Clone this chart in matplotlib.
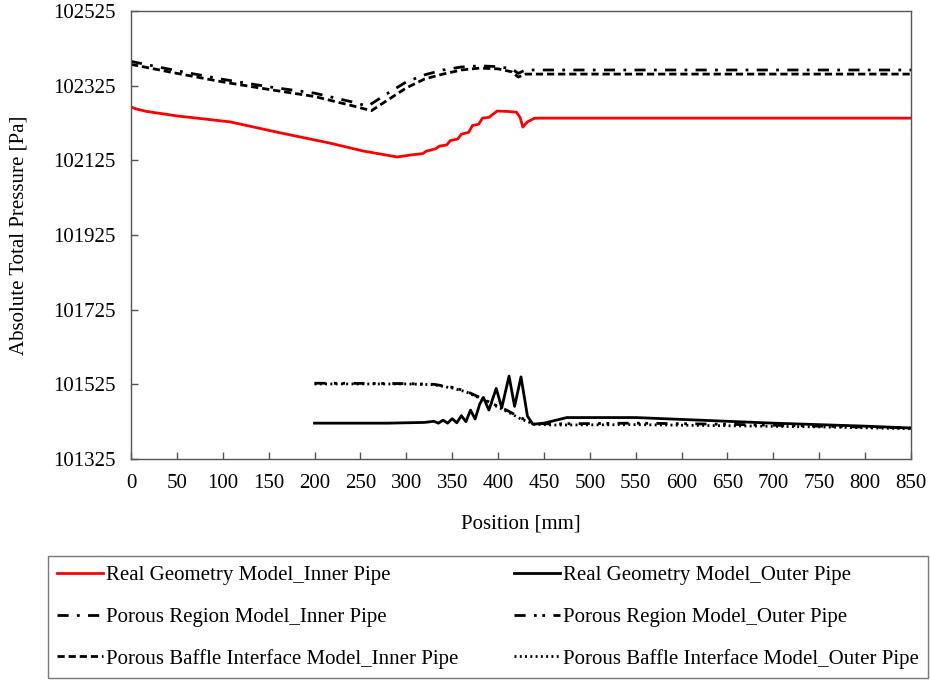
import matplotlib
matplotlib.use("Agg")
import matplotlib.pyplot as plt

plt.rcParams['font.family'] = ['Liberation Serif', 'DejaVu Serif']

# Real Geometry Model - inner pipe
real_in_x = [0, 5, 17, 50, 108, 160, 217, 253, 290, 307, 318, 322, 326, 332, 336, 344, 348,
             356, 360, 368, 372, 379, 383, 390, 399, 410, 420, 424, 427, 432, 440, 850]
real_in_p = [102268, 102263, 102256, 102244, 102228, 102200, 102171, 102150, 102134, 102140,
             102143, 102150, 102152, 102156, 102163, 102166, 102178, 102182, 102195, 102200,
             102218, 102222, 102238, 102240, 102257, 102256, 102254, 102240, 102214, 102228,
             102238, 102238]

# Real Geometry Model - outer pipe
real_out_x = [200, 280, 300, 320, 330, 335, 340, 345, 350, 355, 360, 365, 370, 375, 380,
              384, 390, 398, 404, 412, 418, 425, 432, 438, 450, 475, 550, 600, 700, 800, 850]
real_out_p = [101421, 101421, 101422, 101423, 101426, 101421, 101429, 101421, 101433, 101422,
              101441, 101425, 101456, 101432, 101472, 101490, 101456, 101514, 101462, 101547,
              101466, 101545, 101440, 101418, 101421, 101436, 101436, 101431, 101421, 101413, 101408]

# Porous Region Model
pr_in_x = [0, 50, 100, 150, 200, 240, 258, 280, 300, 320, 340, 360, 380, 400, 415, 422, 430, 850]
pr_in_p = [102390, 102365, 102342, 102322, 102305, 102282, 102270, 102305, 102335, 102354,
           102367, 102375, 102378, 102376, 102370, 102358, 102367, 102367]
pr_out_x = [200, 300, 330, 350, 365, 380, 395, 410, 425, 440, 460, 550, 650, 750, 850]
pr_out_p = [101528, 101527, 101525, 101517, 101507, 101490, 101472, 101455, 101435, 101420,
            101419, 101421, 101418, 101413, 101408]

# Porous Baffle Interface Model
pb_in_x = [0, 50, 100, 150, 200, 240, 262, 280, 300, 320, 340, 360, 380, 400, 415, 422, 430, 850]
pb_in_p = [102382, 102358, 102335, 102315, 102296, 102272, 102258, 102287, 102319, 102343,
           102356, 102367, 102372, 102370, 102362, 102348, 102356, 102356]
pb_out_x = [200, 300, 330, 350, 365, 380, 395, 410, 425, 440, 460, 550, 650, 750, 850]
pb_out_p = [101526, 101526, 101524, 101515, 101505, 101488, 101470, 101452, 101432, 101418,
            101416, 101417, 101414, 101411, 101406]

y_ticks = [101325, 101525, 101725, 101925, 102125, 102325, 102525]
x_ticks = list(range(0, 851, 50))

fig = plt.figure(figsize=(9.3, 6.8), dpi=100)
ax = fig.add_axes([131 / 930, 1 - 459 / 680, 780 / 930, 448 / 680])

dashdot = (0, (4, 3, 1, 3))
dashdotdot = (0, (4, 3, 1, 2, 1, 3))
dashed = (0, (2.6, 1.4))
dotted = (0, (0.7, 1.2))

h1, = ax.plot(real_in_x, real_in_p, color='red', lw=2, label='Real Geometry Model_Inner Pipe')
h2, = ax.plot(real_out_x, real_out_p, color='black', lw=2, label='Real Geometry Model_Outer Pipe')
h3, = ax.plot(pr_in_x, pr_in_p, color='black', lw=2, linestyle=dashdot,
              label='Porous Region Model_Inner Pipe')
h4, = ax.plot(pr_out_x, pr_out_p, color='black', lw=2, linestyle=dashdotdot,
              label='Porous Region Model_Outer Pipe')
h5, = ax.plot(pb_in_x, pb_in_p, color='black', lw=2, linestyle=dashed,
              label='Porous Baffle Interface Model_Inner Pipe')
h6, = ax.plot(pb_out_x, pb_out_p, color='black', lw=2, linestyle=dotted,
              label='Porous Baffle Interface Model_Outer Pipe')

ax.set_xlim(0, 850)
ax.set_ylim(101325, 102525)
ax.set_xticks(x_ticks)
ax.set_yticks(y_ticks)
ax.tick_params(direction='in', length=5, width=1, labelsize=15, pad=11, color='#555555')
for s in ax.spines.values():
    s.set_color('#555555')
    s.set_linewidth(1)

ax.set_xlabel('Position [mm]', fontsize=15, labelpad=15)
ax.set_ylabel('Absolute Total Pressure [Pa]', fontsize=15, labelpad=18)

leg = fig.legend(handles=[h1, h3, h5, h2, h4, h6], ncol=2, loc='lower left',
                 bbox_to_anchor=(48 / 930, 2 / 680, 880 / 930, 123 / 680), mode='expand',
                 fontsize=15, handlelength=2.2, handletextpad=0.15, labelspacing=1.05,
                 borderaxespad=0, fancybox=False, edgecolor='#555555', borderpad=0.45)
leg.get_frame().set_linewidth(1)

fig.savefig('out.png', dpi=100)
